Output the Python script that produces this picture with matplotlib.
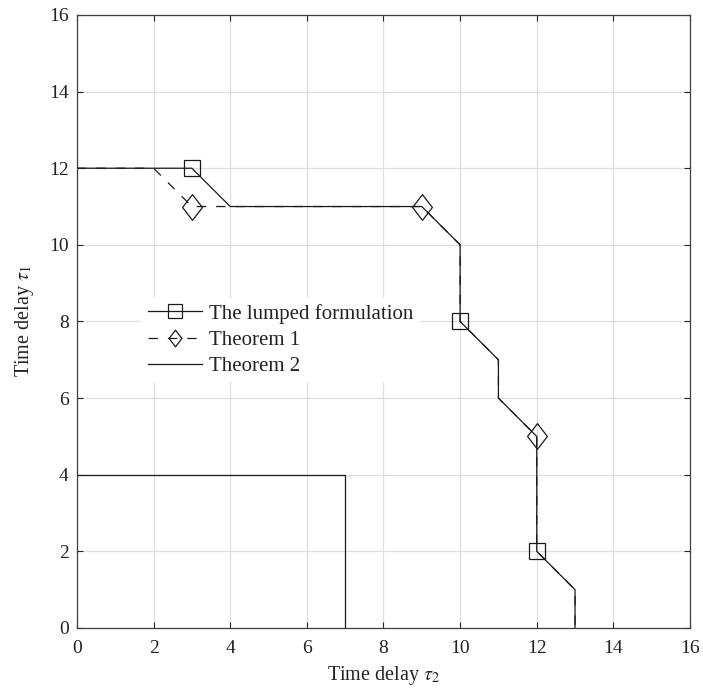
import numpy as np
import matplotlib.pyplot as plt
from matplotlib.path import Path

plt.rcParams['font.family'] = ['Liberation Serif', 'DejaVu Serif']
plt.rcParams['mathtext.fontset'] = 'stix'

# Stability boundaries (tau2 on x, tau1 on y)
lumped_tau2 = [0, 3, 4, 9, 10, 10, 11, 11, 12, 12, 13, 13]
lumped_tau1 = [12, 12, 11, 11, 10, 8, 7, 6, 5, 2, 1, 0]
lumped_marks = [1, 5, 9]

thm1_tau2 = [0, 2, 3, 4, 9, 10, 10, 11, 11, 12, 12, 13, 13]
thm1_tau1 = [12, 12, 11, 11, 11, 10, 8, 7, 6, 5, 2, 1, 0]
thm1_marks = [2, 4, 9]

thm2_tau2 = [0, 7, 7]
thm2_tau1 = [4, 4, 0]

ticks = np.arange(0, 17, 2)

# MATLAB-like diamond, a bit narrower than tall
diamond = Path([(0, 1), (0.77, 0), (0, -1), (-0.77, 0), (0, 1)],
               [Path.MOVETO, Path.LINETO, Path.LINETO, Path.LINETO, Path.CLOSEPOLY])

fig = plt.figure(figsize=(7.03, 6.93), dpi=100)
ax = fig.add_axes([0.1095, 0.0938, 0.872, 0.8846])

line_col = '#1a1a1a'
ax.plot(lumped_tau2, lumped_tau1, color=line_col, lw=0.9, marker='s', markevery=lumped_marks,
        markersize=11.5, markerfacecolor='none', markeredgecolor=line_col, markeredgewidth=0.9,
        label='The lumped formulation')
ax.plot(thm1_tau2, thm1_tau1, color=line_col, lw=0.9, dashes=(7.5, 8), marker=diamond,
        markevery=thm1_marks, markersize=18.5, markerfacecolor='none', markeredgecolor=line_col,
        markeredgewidth=0.9, label='Theorem 1')
ax.plot(thm2_tau2, thm2_tau1, color=line_col, lw=0.9, label='Theorem 2')

ax.set_xlim(0, 16)
ax.set_ylim(0, 16)
ax.set_xticks(ticks)
ax.set_yticks(ticks)
ax.grid(True, color='#dedede', lw=0.9)
ax.set_axisbelow(True)
ax.tick_params(direction='in', top=True, right=True, length=4.5, width=0.8,
               labelsize=14, colors='#262626', labelcolor='#222222')
ax.tick_params(axis='x', pad=9)
ax.tick_params(axis='y', pad=6)
for s in ax.spines.values():
    s.set_color('#404040')
    s.set_linewidth(0.9)

ax.set_xlabel(r'Time delay $\tau_2$', fontsize=14.5, color='#222222', labelpad=5)
ax.set_ylabel(r'Time delay $\tau_1$', fontsize=14.5, color='#222222', labelpad=9)

leg = ax.legend(loc='upper left', bbox_to_anchor=(0.088, 0.556), fontsize=15,
                handlelength=2.6, handletextpad=0.35, labelspacing=0.32,
                borderpad=0.3, fancybox=False, framealpha=1)
leg.get_frame().set_edgecolor('none')
leg.legend_handles[0].set_markersize(9.5)
leg.legend_handles[1].set_markersize(12)
for t in leg.get_texts():
    t.set_color('#222222')

fig.savefig('out.png', dpi=100)
